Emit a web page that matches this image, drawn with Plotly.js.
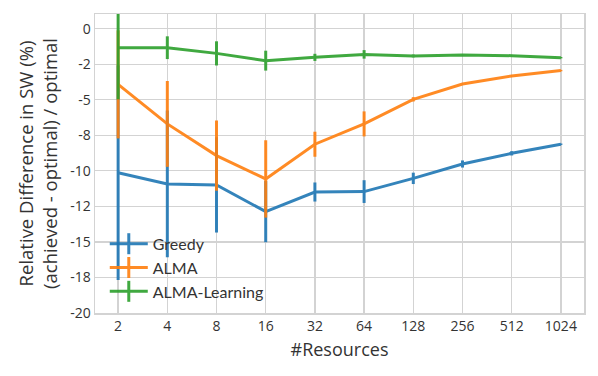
<!DOCTYPE html>
<html>
<head>
<meta charset="utf-8">
<script src="https://cdn.plot.ly/plotly-3.0.1.min.js"></script>
<style>
  body { margin: 0; padding: 0; background: #fff; }
  #chart { width: 598px; height: 376px; }
</style>
</head>
<body>
<div id="chart"></div>
<script>
// x categories (number of resources)
var resources = ['2', '4', '8', '16', '32', '64', '128', '256', '512', '1024'];

// mean relative difference (%) and error (+/-)
var greedy = [-10.13, -10.92, -10.99, -12.87, -11.49, -11.46, -10.53, -9.52, -8.77, -8.13];
var greedyErr = [7.55, 5.16, 3.35, 2.15, 0.67, 0.8, 0.4, 0.25, 0.15, 0.05];

var alma = [-3.92, -6.7, -8.93, -10.57, -8.13, -6.7, -4.97, -3.89, -3.33, -2.95];
var almaErr = [3.8, 3.02, 2.47, 2.72, 0.88, 0.88, 0.15, 0.05, 0.05, 0.05];

var almaLearning = [-1.34, -1.34, -1.74, -2.25, -2.02, -1.81, -1.92, -1.85, -1.9, -2.04];
var almaLearningErr = [3.63, 0.8, 0.85, 0.7, 0.25, 0.3, 0.1, 0.05, 0.05, 0.05];

var yTickVals = [0, -2.5, -5, -7.5, -10, -12.5, -15, -17.5, -20];
var yTickText = ['0', '-2', '-5', '-8', '-10', '-12', '-15', '-18', '-20'];

function makeTrace(name, ys, errs, color) {
  return {
    x: resources,
    y: ys,
    name: name,
    type: 'scatter',
    mode: 'lines',
    opacity: 0.9,
    showlegend: false,
    line: {color: color, width: 3},
    error_y: {type: 'data', array: errs, visible: true, thickness: 3, width: 0, color: color}
  };
}

// legend-only entries so the key shows the errorbar "+" glyph
function legendTrace(name, color) {
  return {
    x: [null],
    y: [null],
    name: name,
    type: 'scatter',
    mode: 'lines+markers',
    opacity: 0.9,
    line: {color: color, width: 3},
    marker: {symbol: 'line-ns', size: 15, color: color, line: {color: color, width: 3}}
  };
}

var colors = ['#1f77b4', '#ff7f0e', '#2ca02c'];

var data = [
  makeTrace('Greedy', greedy, greedyErr, colors[0]),
  makeTrace('ALMA', alma, almaErr, colors[1]),
  makeTrace('ALMA-Learning', almaLearning, almaLearningErr, colors[2]),
  legendTrace('Greedy', colors[0]),
  legendTrace('ALMA', colors[1]),
  legendTrace('ALMA-Learning', colors[2])
];

var gridColor = '#d3d3d3';
var tickFont = {family: '"Open Sans", sans-serif', size: 14, color: '#333'};

var layout = {
  width: 598,
  height: 376,
  margin: {l: 95, r: 14, t: 14, b: 63},
  paper_bgcolor: '#fff',
  plot_bgcolor: '#fff',
  font: {family: '"Open Sans", sans-serif', size: 14, color: '#333'},
  showlegend: true,
  legend: {
    x: 0.02, y: 0.014, xanchor: 'left', yanchor: 'bottom',
    bgcolor: 'rgba(0,0,0,0)',
    itemwidth: 38,
    font: {family: 'Lato, sans-serif', size: 16, color: '#333'}
  },
  xaxis: {
    type: 'category',
    range: [-0.47, 9.47],
    showgrid: true,
    gridcolor: gridColor,
    gridwidth: 1.3,
    showline: true,
    linecolor: gridColor,
    linewidth: 1.5,
    mirror: true,
    ticks: '',
    zeroline: false,
    tickfont: tickFont,
    title: {text: '#Resources', font: {family: '"Open Sans", sans-serif', size: 18, color: '#333'}, standoff: 9}
  },
  yaxis: {
    range: [-20, 1.03],
    tickvals: yTickVals,
    ticktext: yTickText,
    showgrid: true,
    gridcolor: gridColor,
    gridwidth: 1.3,
    showline: true,
    linecolor: gridColor,
    linewidth: 1.5,
    mirror: true,
    ticks: '',
    zeroline: false,
    tickfont: tickFont,
    title: {
      text: 'Relative Difference in SW (%)<br>(achieved - optimal) / optimal',
      font: {family: '"Open Sans", sans-serif', size: 18.5, color: '#333'},
      standoff: 7
    }
  }
};

Plotly.newPlot('chart', data, layout, {displayModeBar: false, staticPlot: true});
</script>
</body>
</html>
